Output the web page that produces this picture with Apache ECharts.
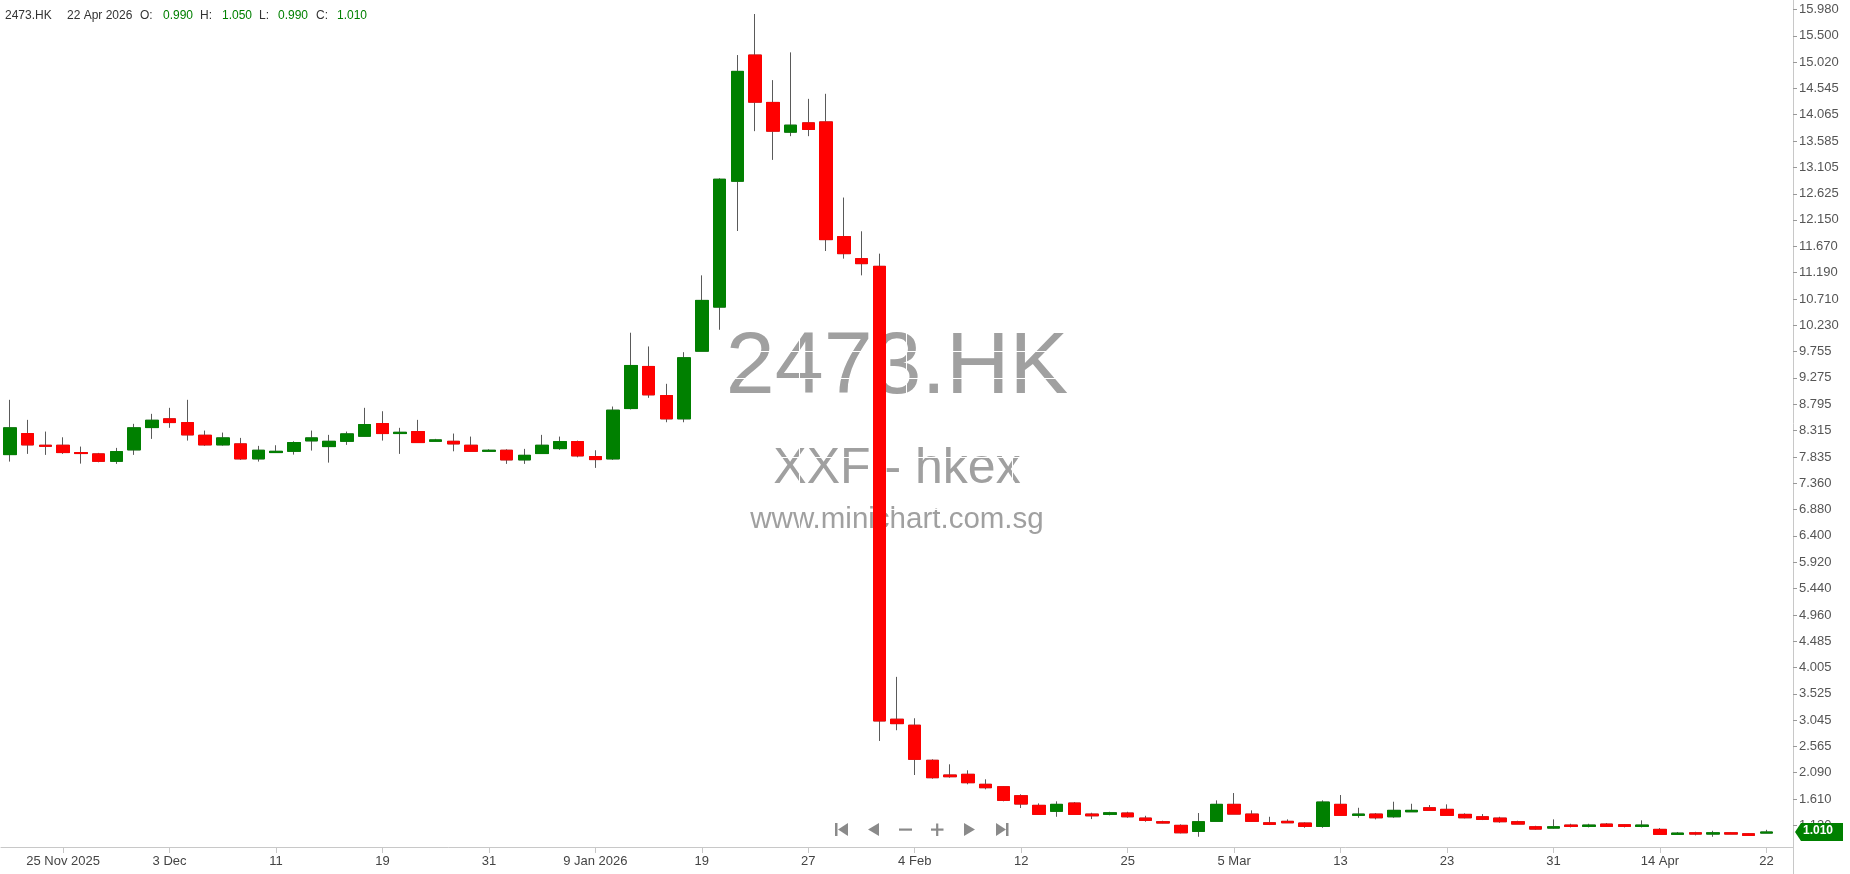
<!DOCTYPE html>
<html><head><meta charset="utf-8">
<script src="https://cdn.jsdelivr.net/npm/echarts@6/dist/echarts.min.js"></script>
<style>html,body{margin:0;padding:0;background:#fff}#c{width:1850px;height:874px}</style>
</head><body><div id="c"></div>
<script>
const dates = ["2025-11-20","2025-11-21","2025-11-24","2025-11-25","2025-11-26","2025-11-27","2025-11-28","2025-12-01","2025-12-02","2025-12-03",
"2025-12-04","2025-12-05","2025-12-08","2025-12-09","2025-12-10","2025-12-11","2025-12-12","2025-12-15","2025-12-16","2025-12-17",
"2025-12-18","2025-12-19","2025-12-22","2025-12-23","2025-12-24","2025-12-29","2025-12-30","2025-12-31","2026-01-02","2026-01-05",
"2026-01-06","2026-01-07","2026-01-08","2026-01-09","2026-01-12","2026-01-13","2026-01-14","2026-01-15","2026-01-16","2026-01-19",
"2026-01-20","2026-01-21","2026-01-22","2026-01-23","2026-01-26","2026-01-27","2026-01-28","2026-01-29","2026-01-30","2026-02-02",
"2026-02-03","2026-02-04","2026-02-05","2026-02-06","2026-02-09","2026-02-10","2026-02-11","2026-02-12","2026-02-13","2026-02-16",
"2026-02-20","2026-02-23","2026-02-24","2026-02-25","2026-02-26","2026-02-27","2026-03-02","2026-03-03","2026-03-04","2026-03-05",
"2026-03-06","2026-03-09","2026-03-10","2026-03-11","2026-03-12","2026-03-13","2026-03-16","2026-03-17","2026-03-18","2026-03-19",
"2026-03-20","2026-03-23","2026-03-24","2026-03-25","2026-03-26","2026-03-27","2026-03-30","2026-03-31","2026-04-01","2026-04-02",
"2026-04-08","2026-04-09","2026-04-10","2026-04-14","2026-04-15","2026-04-16","2026-04-17","2026-04-20","2026-04-21","2026-04-22"];

const opens = [7.878,8.261,8.048,8.048,7.915,7.891,7.756,7.964,8.370,8.529,
8.461,8.230,8.055,8.073,7.800,7.915,7.938,8.128,8.024,8.120,
8.212,8.443,8.261,8.297,8.120,8.120,8.048,7.938,7.957,7.782,
7.897,7.987,8.115,7.842,7.800,8.716,9.482,8.953,8.529,9.760,
10.562,12.853,15.149,14.287,13.746,13.915,13.933,11.845,11.444,11.304,
3.062,2.953,2.315,2.047,2.060,1.878,1.834,1.670,1.495,1.386,
1.537,1.336,1.331,1.355,1.263,1.197,1.131,1.021,1.204,1.513,
1.336,1.178,1.204,1.173,1.112,1.513,1.313,1.336,1.287,1.378,
1.451,1.422,1.331,1.287,1.263,1.197,1.105,1.081,1.136,1.112,
1.154,1.142,1.112,1.058,0.967,0.996,0.972,0.996,0.978,0.990];

const highs = [8.875,8.510,8.297,8.193,8.024,7.909,8.000,8.438,8.620,8.729,
8.875,8.315,8.279,8.182,8.037,8.048,8.120,8.315,8.237,8.297,
8.729,8.667,8.365,8.510,8.164,8.261,8.206,7.975,7.975,7.982,
8.237,8.206,8.133,7.957,8.753,10.096,9.846,9.166,9.742,11.140,
12.907,15.149,15.896,14.693,15.198,14.352,14.444,12.556,11.942,11.535,
3.833,3.080,2.333,2.242,2.133,1.969,1.847,1.696,1.531,1.568,
1.555,1.360,1.378,1.378,1.305,1.215,1.149,1.355,1.586,1.719,
1.404,1.287,1.240,1.185,1.586,1.683,1.451,1.355,1.561,1.524,
1.500,1.513,1.350,1.336,1.287,1.215,1.123,1.240,1.160,1.160,
1.173,1.154,1.222,1.081,1.010,1.014,1.032,1.010,0.990,1.050];

const lows = [7.751,7.891,7.873,7.891,7.714,7.738,7.709,7.873,8.164,8.365,
8.133,8.037,8.040,7.782,7.751,7.910,7.878,7.951,7.732,8.055,
8.210,8.133,7.891,8.097,8.120,7.938,7.930,7.938,7.709,7.709,
7.890,7.964,7.829,7.636,7.782,8.700,8.911,8.467,8.467,9.760,
10.150,11.947,13.764,13.241,13.673,13.673,11.583,11.444,11.140,2.667,
2.862,2.047,1.980,1.998,1.878,1.787,1.568,1.446,1.330,1.287,
1.330,1.245,1.313,1.269,1.197,1.170,0.985,0.923,1.204,1.336,
1.197,1.136,1.178,1.087,1.087,1.310,1.269,1.240,1.269,1.378,
1.400,1.310,1.258,1.227,1.178,1.154,1.050,1.070,1.094,1.094,
1.110,1.094,1.094,0.967,0.967,0.948,0.923,0.972,0.948,0.990];

const closes = [8.365,8.055,8.029,7.915,7.897,7.756,7.933,8.365,8.503,8.461,
8.237,8.055,8.182,7.800,7.957,7.938,8.097,8.182,8.120,8.255,
8.425,8.261,8.284,8.097,8.146,8.073,7.938,7.957,7.782,7.865,
8.048,8.115,7.855,7.787,8.686,9.500,8.966,8.529,9.640,10.684,
12.889,14.852,14.292,13.764,13.873,13.795,11.790,11.535,11.353,3.031,
2.982,2.333,1.998,2.016,1.907,1.816,1.586,1.519,1.331,1.513,
1.331,1.305,1.360,1.287,1.222,1.173,0.996,1.197,1.513,1.336,
1.204,1.149,1.178,1.112,1.555,1.313,1.336,1.269,1.404,1.404,
1.404,1.313,1.269,1.240,1.197,1.154,1.063,1.105,1.112,1.136,
1.112,1.112,1.136,0.967,0.990,0.972,0.996,0.972,0.948,1.010];

const xTickLabels = ["25 Nov 2025","3 Dec","11","19","31","9 Jan 2026","19","27","4 Feb","12","25","5 Mar","13","23","31","14 Apr","22"];
const yTickValues = [1.130,1.610,2.090,2.565,3.045,3.525,4.005,4.485,4.960,5.440,5.920,6.400,6.880,7.360,7.835,8.315,8.795,9.275,9.755,10.230,10.710,11.190,11.670,12.150,12.625,13.105,13.585,14.065,14.545,15.020,15.500,15.980];
const ticker = "2473.HK";
const lastDateLabel = "22 Apr 2026";

const UP = '#008000', DOWN = '#ff0000', WICK = '#5a5a5a', AXIS = '#c8c8c8';
const FONT = "'Liberation Sans', Arial, sans-serif";
const firstLabelIdx = 3, labelStep = 6;
const isLabelIdx = i => i >= firstLabelIdx && (i - firstLabelIdx) % labelStep === 0;

const cats = dates.concat(['']);
const full = dates.map((d, i) => [opens[i], closes[i], lows[i], highs[i]]).concat(['-']);
const bodies = dates.map((d, i) => [opens[i], closes[i], Math.min(opens[i], closes[i]), Math.max(opens[i], closes[i])]).concat(['-']);

const n = dates.length - 1;
function hdr(x, text, color) {
  return {type:'text', left:x, top:10, z:100, style:{text:text, fill:color, font:"12px " + FONT}};
}
const gray = '#8a8a8a';
const WM = '#a0a0a0';
const staticGraphics = [
  {type:'text', id:'wm1', z:-1, x:897, y:325, style:{text:ticker, fill:WM, font:"88px " + FONT, textAlign:'center', textVerticalAlign:'top'}},
  {type:'text', id:'wm2', z:-1, x:897, y:444, style:{text:'XXF - hkex', fill:WM, font:"50px " + FONT, textAlign:'center', textVerticalAlign:'top'}},
  {type:'text', id:'wm3', z:-1, x:897, y:505, style:{text:'www.minichart.com.sg', fill:WM, font:"29.5px " + FONT, textAlign:'center', textVerticalAlign:'top'}},
  hdr(5, ticker, '#333'),
  hdr(67, lastDateLabel, '#333'),
  hdr(140, 'O:', '#333'), hdr(163, opens[n].toFixed(3), UP),
  hdr(200, 'H:', '#333'), hdr(222, highs[n].toFixed(3), UP),
  hdr(259, 'L:', '#333'), hdr(278, lows[n].toFixed(3), UP),
  hdr(316, 'C:', '#333'), hdr(337, closes[n].toFixed(3), UP),
  // navigation icons
  {type:'rect', shape:{x:835, y:823, width:2.5, height:13}, style:{fill:gray}},
  {type:'polygon', shape:{points:[[848,823],[848,836],[838,829.5]]}, style:{fill:gray}},
  {type:'polygon', shape:{points:[[879,823],[879,836],[868,829.5]]}, style:{fill:gray}},
  {type:'rect', shape:{x:899, y:828.5, width:13, height:2.2}, style:{fill:gray}},
  {type:'rect', shape:{x:931, y:828.5, width:12.5, height:2.2}, style:{fill:gray}},
  {type:'rect', shape:{x:936.1, y:823.5, width:2.2, height:12.5}, style:{fill:gray}},
  {type:'polygon', shape:{points:[[964,823],[964,836],[975,829.5]]}, style:{fill:gray}},
  {type:'polygon', shape:{points:[[996,823],[996,836],[1006,829.5]]}, style:{fill:gray}},
  {type:'rect', shape:{x:1006, y:823, width:2.5, height:13}, style:{fill:gray}}
];

const chart = echarts.init(document.getElementById('c'), null, {renderer:'canvas'});
chart.setOption({
  animation:false,
  backgroundColor:'#fff',
  grid:{left:1, right:57, top:0, bottom:27, containLabel:false},
  xAxis:{
    type:'category', data:cats, boundaryGap:true,
    axisLine:{show:true, lineStyle:{color:AXIS, width:1}},
    axisTick:{show:true, alignWithLabel:true, interval:(i)=>isLabelIdx(i), length:6, lineStyle:{color:AXIS}},
    axisLabel:{interval:(i)=>isLabelIdx(i), formatter:(v,i)=>xTickLabels[(i-firstLabelIdx)/labelStep] || '', color:'#444', fontSize:13, fontFamily:FONT, margin:8},
    splitLine:{show:true, interval:(i)=>isLabelIdx(i), lineStyle:{color:'#ffffff', width:1}}
  },
  yAxis:{
    type:'value', position:'right', min:0.737, max:16.151, scale:true,
    axisLine:{show:true, lineStyle:{color:AXIS, width:1}},
    axisTick:{show:true, customValues:yTickValues, length:4, lineStyle:{color:'#999'}},
    axisLabel:{customValues:yTickValues, formatter:(v)=>Number(v).toFixed(3), color:'#555', fontSize:13, fontFamily:FONT, margin:6},
    splitLine:{show:true, lineStyle:{color:'#ffffff', width:1}}
  },
  series:[
    {type:'candlestick', name:'wick', data:full, barWidth:13, z:2,
     itemStyle:{color:UP, color0:DOWN, borderColor:WICK, borderColor0:WICK, borderWidth:1}},
    {type:'candlestick', name:'body', data:bodies, barWidth:13, z:3, silent:true,
     itemStyle:{color:UP, color0:DOWN, borderColor:UP, borderColor0:DOWN, borderWidth:1}}
  ],
  graphic:staticGraphics
});

// last price tag placed via the axis scale
const ty = chart.convertToPixel({yAxisIndex:0}, closes[n]);
const ax = chart.convertToPixel({xAxisIndex:0}, cats.length - 1) + 17.74/2;
const tagColor = closes[n] >= opens[n] ? UP : DOWN;
chart.setOption({graphic: staticGraphics.concat([
  {type:'polygon', z:100, shape:{points:[[ax+2, ty],[ax+8, ty-9],[ax+50, ty-9],[ax+50, ty+9],[ax+8, ty+9]]}, style:{fill:tagColor}},
  {type:'text', z:101, left: ax+10, top: ty-7, style:{text:closes[n].toFixed(3), fill:'#fff', font:"bold 12px " + FONT}},
  {type:'line', z:100, shape:{x1:ax+0.5, y1:847, x2:ax+0.5, y2:874}, style:{stroke:AXIS, lineWidth:1}}
])}, {replaceMerge:['graphic']});
</script>
</body></html>
